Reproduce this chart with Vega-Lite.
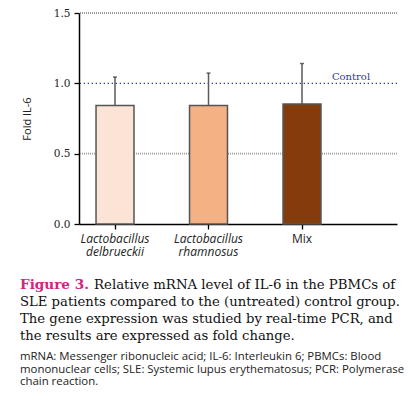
{
  "$schema": "https://vega.github.io/schema/vega-lite/v6.json",
  "padding": {"left": 20, "top": 8, "right": 5, "bottom": 0},
  "spacing": 8,
  "columns": 1,
  "config": {"view": {"stroke": null}},
  "datasets": {
    "bars": [
      {"group": "Lactobacillus delbrueckii", "fold": 0.842, "upper": 1.045},
      {"group": "Lactobacillus rhamnosus", "fold": 0.843, "upper": 1.073},
      {"group": "Mix", "fold": 0.853, "upper": 1.141}
    ],
    "refs": [
      {"level": 1.5, "kind": "top"},
      {"level": 1.0, "kind": "control"},
      {"level": 0.5, "kind": "half"}
    ],
    "main": [
      {"line": 1, "part": "fig", "text": "Figure 3."},
      {"line": 1, "part": "first", "text": "Relative mRNA level of IL-6 in the PBMCs of"},
      {"line": 2, "part": "body", "text": "SLE patients compared to the (untreated) control group."},
      {"line": 3, "part": "body", "text": "The gene expression was studied by real-time PCR, and"},
      {"line": 4, "part": "body", "text": "the results are expressed as fold change."}
    ],
    "abbr": [
      {"line": 1, "text": "mRNA: Messenger ribonucleic acid; IL-6: Interleukin 6; PBMCs: Blood"},
      {"line": 2, "text": "mononuclear cells; SLE: Systemic lupus erythematosus; PCR: Polymerase"},
      {"line": 3, "text": "chain reaction."}
    ]
  },
  "concat": [
    {
      "width": 318,
      "height": 211,
      "layer": [
        {
          "data": {"name": "refs"},
          "transform": [{"filter": "datum.kind === 'top'"}],
          "mark": {"type": "rule", "color": "#333333", "strokeWidth": 1, "strokeDash": [1, 1]},
          "encoding": {"y": {"field": "level", "type": "quantitative", "scale": {"domain": [0, 1.5]}}}
        },
        {
          "data": {"name": "refs"},
          "transform": [{"filter": "datum.kind === 'control'"}],
          "mark": {"type": "rule", "color": "#2E3B8C", "strokeWidth": 1.2, "strokeDash": [1.3, 2.7]},
          "encoding": {"y": {"field": "level", "type": "quantitative"}}
        },
        {
          "data": {"name": "refs"},
          "transform": [{"filter": "datum.kind === 'half'"}],
          "mark": {"type": "rule", "color": "#9a9a9a", "strokeWidth": 1.6, "strokeDash": [1, 1]},
          "encoding": {"y": {"field": "level", "type": "quantitative"}}
        },
        {
          "data": {"name": "bars"},
          "mark": {"type": "rule", "color": "#5a5a5a", "strokeWidth": 1.5},
          "encoding": {
            "x": {"field": "group", "type": "nominal"},
            "y": {"field": "fold", "type": "quantitative"},
            "y2": {"field": "upper"}
          }
        },
        {
          "data": {"name": "bars"},
          "mark": {"type": "tick", "color": "#333333", "thickness": 1.5, "size": 4},
          "encoding": {
            "x": {"field": "group", "type": "nominal"},
            "y": {"field": "upper", "type": "quantitative"}
          }
        },
        {
          "data": {"name": "bars"},
          "mark": {"type": "bar", "stroke": "#555555", "strokeWidth": 1.5},
          "encoding": {
            "x": {
              "field": "group",
              "type": "nominal",
              "sort": null,
              "scale": {"paddingInner": 0.594, "paddingOuter": 0.4975, "align": 0.183},
              "axis": {
                "title": null,
                "labelAngle": 0,
                "labelAlign": "center",
                "labelExpr": "split(datum.label, ' ')",
                "labelFont": "Open Sans",
                "labelFontSize": 12,
                "labelFontStyle": {"condition": {"test": "datum.value === 'Mix'", "value": "normal"}, "value": "italic"},
                "labelColor": "#222222",
                "labelLineHeight": 13.5,
                "labelPadding": 9,
                "domainColor": "#000000",
                "domainWidth": 1.5,
                "tickColor": "#000000",
                "tickWidth": 1.3,
                "tickSize": 5
              }
            },
            "y": {
              "field": "fold",
              "type": "quantitative",
              "scale": {"domain": [0, 1.5], "nice": false},
              "axis": {
                "values": [0, 0.5, 1, 1.5],
                "format": ".1f",
                "grid": false,
                "title": "Fold IL-6",
                "titleFont": "Open Sans",
                "titleFontSize": 11,
                "titleFontWeight": "normal",
                "titleColor": "#222222",
                "titlePadding": 21,
                "labelFont": "DejaVu Serif",
                "labelFontSize": 10.5,
                "labelColor": "#222222",
                "labelPadding": 4,
                "domainColor": "#000000",
                "domainWidth": 1.5,
                "tickColor": "#000000",
                "tickWidth": 1.3,
                "tickSize": 5
              }
            },
            "color": {
              "field": "group",
              "type": "nominal",
              "scale": {"range": ["#FBE4D6", "#F3B184", "#843C0C"]},
              "legend": null
            }
          }
        },
        {
          "data": {"values": [{"group": "Mix", "level": 1.0, "label": "Control"}]},
          "mark": {"type": "text", "font": "DejaVu Serif", "fontSize": 10, "color": "#2E3B8C", "dx": 49, "dy": -3, "baseline": "alphabetic"},
          "encoding": {
            "x": {"field": "group", "type": "nominal"},
            "y": {"field": "level", "type": "quantitative"},
            "text": {"field": "label"}
          }
        }
      ]
    },
    {
      "width": 317,
      "height": 74,
      "data": {"name": "main"},
      "encoding": {
        "x": {"value": 0},
        "y": {"field": "line", "type": "ordinal", "axis": null, "scale": {"type": "point", "padding": 0.676, "align": 1}},
        "text": {"field": "text"}
      },
      "layer": [
        {
          "transform": [{"filter": "datum.part === 'fig'"}],
          "mark": {"type": "text", "align": "left", "baseline": "alphabetic", "font": "DejaVu Serif", "fontSize": 13.6, "fontWeight": "bold", "color": "#D4237A", "dx": -59}
        },
        {
          "transform": [{"filter": "datum.part === 'first'"}],
          "mark": {"type": "text", "align": "left", "baseline": "alphabetic", "font": "DejaVu Serif", "fontSize": 13.3, "color": "#111111", "dx": 15}
        },
        {
          "transform": [{"filter": "datum.part === 'body'"}],
          "mark": {"type": "text", "align": "left", "baseline": "alphabetic", "font": "DejaVu Serif", "fontSize": 13.2, "color": "#111111", "dx": -59}
        }
      ]
    },
    {
      "width": 317,
      "height": 25,
      "data": {"name": "abbr"},
      "mark": {"type": "text", "align": "left", "baseline": "alphabetic", "font": "Open Sans", "fontSize": 11.4, "color": "#222222", "dx": -59},
      "encoding": {
        "x": {"value": 0},
        "y": {"field": "line", "type": "ordinal", "axis": null, "scale": {"type": "point", "padding": 0}},
        "text": {"field": "text"}
      }
    }
  ]
}
